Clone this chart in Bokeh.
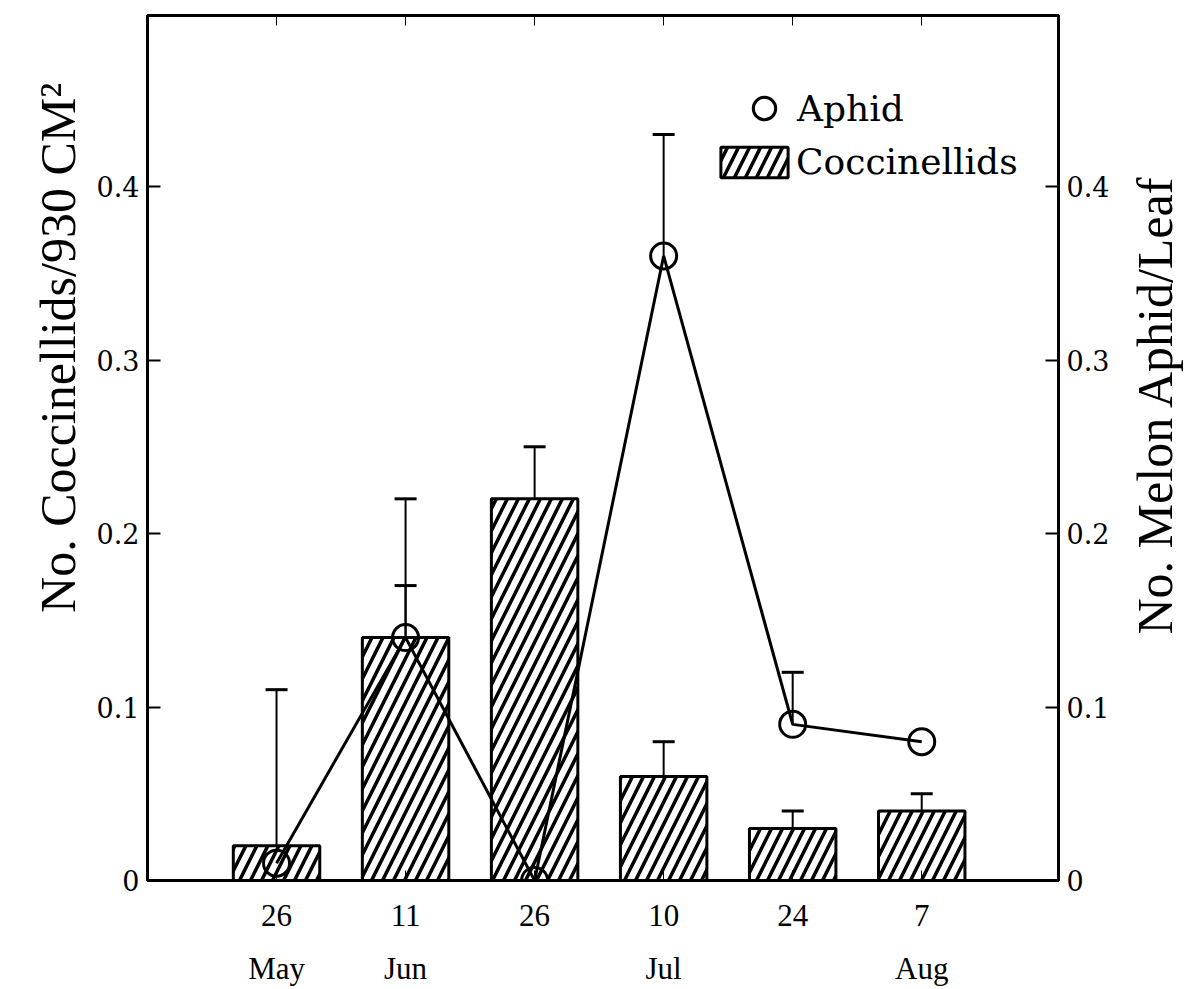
import math
from bokeh.plotting import figure
from bokeh.layouts import row
from bokeh.models import (Range1d, LinearAxis, FixedTicker, Whisker, TeeHead,
                          ColumnDataSource, Legend, LegendItem)
from bokeh.core.properties import value
from bokeh.embed import file_html
from bokeh.resources import INLINE

# ---- data ----
dates = ["26", "11", "26", "10", "24", "7"]
months = ["May", "Jun", "", "Jul", "", "Aug"]
cocc = [0.02, 0.14, 0.22, 0.06, 0.03, 0.04]
cocc_upper = [0.11, 0.17, 0.25, 0.08, 0.04, 0.05]
aphid = [0.01, 0.14, 0.0, 0.36, 0.09, 0.08]
aphid_err_idx = [1, 3, 4]
aphid_upper = [0.22, 0.43, 0.12]
y_ticks = [0, 0.1, 0.2, 0.3, 0.4]
y_labels = ["0", "0.1", "0.2", "0.3", "0.4"]
left_title = "No. Coccinellids/930 CM\u00b2"
right_title = "No. Melon Aphid/Leaf"

xs = list(range(len(dates)))
month_ticks = [i for i, m in zip(xs, months) if m]
SERIF = "DejaVu Serif"
LAB = "Liberation Serif"
H = 989
LW, RW = 90, 68          # side strips holding the axis titles
MAIN_W = 1186 - LW - RW


def strip(width, title, cx, cy):
    f = figure(width=width, height=H, output_backend="svg", toolbar_location=None,
               x_range=Range1d(0, width), y_range=Range1d(0, H),
               min_border=0, x_axis_type=None, y_axis_type=None)
    f.grid.visible = False
    f.outline_line_color = None
    f.text(x=[cx], y=[H - cy], text=[title], angle=math.pi / 2,
           text_align="center", text_baseline="middle",
           text_font=value(LAB), text_font_size="50px", text_color="black")
    return f


pl = strip(LW, left_title, 57, 380)
pr = strip(RW, right_title, 36, 445)

p = figure(width=MAIN_W, height=H, output_backend="svg", toolbar_location=None,
           x_range=Range1d(-1.0, 6.06), y_range=Range1d(0, 0.4986),
           min_border_left=147 - LW, min_border_right=MAIN_W + LW - 1058,
           min_border_top=15, min_border_bottom=109,
           x_axis_type=None, y_axis_type=None)
p.extra_y_ranges = {"aphid": Range1d(0, 0.4986)}
p.grid.visible = False
p.outline_line_color = "black"
p.outline_line_width = 3
p.background_fill_color = "white"
p.border_fill_color = "white"

ly = LinearAxis(ticker=FixedTicker(ticks=y_ticks),
                major_label_overrides={t: l for t, l in zip(y_ticks, y_labels)})
ry = LinearAxis(y_range_name="aphid", ticker=FixedTicker(ticks=y_ticks),
                major_label_overrides={t: l for t, l in zip(y_ticks, y_labels)})
for ax in (ly, ry):
    ax.axis_line_width = 3
    ax.major_tick_in = 13
    ax.major_tick_out = 0
    ax.major_tick_line_width = 2
    ax.minor_tick_line_color = None
    ax.major_label_text_font = SERIF
    ax.major_label_text_font_size = "27px"
    ax.major_label_text_color = "black"
    ax.major_label_standoff = 8
p.add_layout(ly, "left")
p.add_layout(ry, "right")

# bottom axes: day numbers, then month names
bx = LinearAxis(ticker=FixedTicker(ticks=xs),
                major_label_overrides={i: d for i, d in zip(xs, dates)})
mx = LinearAxis(ticker=FixedTicker(ticks=month_ticks),
                major_label_overrides={i: months[i] for i in month_ticks})
bx.axis_line_width = 3
bx.major_tick_in = 10
bx.major_tick_out = 0
bx.major_tick_line_width = 1
bx.major_label_standoff = 24
mx.axis_line_color = None
mx.major_tick_line_color = None
mx.major_label_standoff = 16
for ax in (bx, mx):
    ax.minor_tick_line_color = None
    ax.major_label_text_font = LAB
    ax.major_label_text_font_size = "31px"
    ax.major_label_text_color = "black"
p.add_layout(bx, "below")
p.add_layout(mx, "below")

# top axis (ticks only)
tx = LinearAxis(ticker=FixedTicker(ticks=xs),
                major_label_overrides={i: "" for i in xs})
tx.axis_line_width = 3
tx.major_tick_in = 10
tx.major_tick_out = 0
tx.major_label_standoff = 0
tx.minor_tick_line_color = None
p.add_layout(tx, "above")

# error bars
src_c = ColumnDataSource(dict(x=xs, top=cocc, upper=cocc_upper))
p.add_layout(Whisker(source=src_c, base="x", lower="top", upper="upper",
                     dimension="height", line_width=2, line_color="black",
                     upper_head=TeeHead(size=22, line_width=3, line_color="black"),
                     lower_head=None))
src_ae = ColumnDataSource(dict(x=aphid_err_idx,
                               y=[aphid[i] for i in aphid_err_idx],
                               upper=aphid_upper))
p.add_layout(Whisker(source=src_ae, base="x", lower="y", upper="upper",
                     dimension="height", line_width=2, line_color="black",
                     y_range_name="aphid",
                     upper_head=TeeHead(size=22, line_width=3, line_color="black"),
                     lower_head=None))

bars = p.vbar(x="x", top="top", source=src_c, width=0.67, bottom=0,
              fill_color="white", line_color="black", line_width=3,
              hatch_pattern="/", hatch_color="black", hatch_weight=3.5,
              hatch_scale=22)

p.line(xs, aphid, line_color="black", line_width=3, y_range_name="aphid")
circ = p.scatter(xs, aphid, marker="circle", size=26, fill_alpha=0,
                 line_color="black", line_width=3, y_range_name="aphid")

leg1 = Legend(items=[LegendItem(label="Aphid", renderers=[circ])],
              location=(589, 744), border_line_color=None,
              background_fill_alpha=0, padding=0, margin=0,
              glyph_width=56, glyph_height=56, label_height=56,
              label_standoff=5, label_text_font=SERIF,
              label_text_font_size="36px", label_text_color="black")
leg2 = Legend(items=[LegendItem(label="Coccinellids", renderers=[bars])],
              location=(565, 698), border_line_color=None,
              background_fill_alpha=0, padding=0, margin=0,
              glyph_width=84, glyph_height=38, label_height=38,
              label_standoff=0, label_text_font=SERIF,
              label_text_font_size="36px", label_text_color="black")
p.add_layout(leg1)
p.add_layout(leg2)

layout = row(pl, p, pr, spacing=0)
open("out.html", "w").write(file_html(layout, INLINE))
